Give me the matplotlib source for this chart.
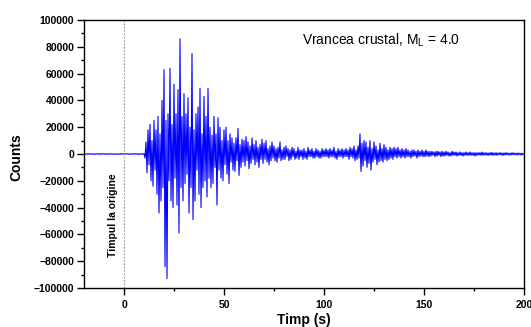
import numpy as np
import matplotlib
matplotlib.use("Agg")
import matplotlib.pyplot as plt
from matplotlib.ticker import MultipleLocator

plt.rcParams['font.family'] = ['Liberation Sans', 'DejaVu Sans']

# seismogram, in thousands of counts, one value every 0.5 s from -20 s
t_start = -20.0
dt = 0.5
counts_k = [
    # -20 .. -10
    0.2, -0.3, 0.1, -0.2, 0.3, -0.1, 0.2, -0.3, 0.2, -0.2, 0.1, -0.3, 0.2, -0.1, 0.3, -0.2, 0.1, -0.2, 0.3, -0.1,
    # -10 .. 0
    0.3, -0.2, 0.1, -0.3, 0.2, -0.2, 0.3, -0.1, 0.2, -0.3, 0.1, -0.2, 0.2, -0.3, 0.1, -0.2, 0.3, -0.2, 0.2, -0.1,
    # 0 .. 10
    0.2, -0.2, 0.3, -0.1, 0.2, -0.3, 0.1, -0.2, 0.3, -0.2, 0.2, -0.1, 0.3, -0.2, 0.1, -0.3, 0.2, -0.2, 0.3, -0.2,
    # 10 .. 20
    0.3, -3, 9, -14, 18, -8, 22, -20, 10, -24, 25, -12, 18, -30, 28, -44, 15, -35, 40, -25,
    # 20 .. 30
    63, -84, 25, -93, 30, -20, 64, -35, 22, -40, 52, -18, 30, -38, 48, -59, 86, -25, 28, -35,
    # 30 .. 40
    45, -22, 30, -15, 42, -44, 20, -25, 75, -49, 18, -35, 30, -12, 35, -30, 49, -40, 15, -25,
    # 40 .. 50
    43, -20, 28, -32, 49, -18, 20, -25, 14, -22, 28, -10, 15, -38, 27, -12, 20, -18, 10, -20,
    # 50 .. 60
    18, -8, 20, -15, 10, -22, 15, -6, 12, -12, 8, -13, 12, -5, 19, -16, 7, -10, 11, -6,
    # 60 .. 70
    10, -9, 13, -5, 9, -11, 6, -7, 12, -4, 7, -8, 10, -6, 5, -10, 7, -4, 11, -7,
    # 70 .. 80
    8, -4, 10, -6, 4, -8, 6, -5, 9, -3, 6, -5, 4, -6, 5, -3, 9, -5, 3, -4,
    # 80 .. 90
    5, -4, 6, -2, 4, -5, 3, -4, 5, -2, 4, -4, 2, -3, 5, -4, 3, -2, 3, -4,
    # 90 .. 100
    4, -3, 2, -4, 5, -2, 3, -2, 4, -3, 2, -3, 4, -2, 3, -3, 2, -3, 4, -2,
    # 100 .. 110
    3, -2, 4, -2, 3, -3, 4, -2, 3, -2, 5, -3, 2, -4, 4, -2, 3, -2, 4, -3,
    # 110 .. 120
    3, -2, 4, -2, 3, -4, 5, -2, 4, -3, 6, -5, 3, -4, 6, -3, 15, -13, 8, -9,
    # 120 .. 130
    10, -5, 9, -10, 5, -7, 10, -12, 4, -6, 9, -4, 6, -8, 3, -6, 8, -5, 4, -6,
    # 130 .. 140
    7, -4, 5, -5, 3, -4, 5, -3, 4, -4, 5, -2, 4, -3, 5, -2, 3, -3, 4, -2,
    # 140 .. 150
    3, -3, 4, -2, 3, -2, 2, -3, 3, -2, 3, -1.5, 2, -3, 3, -2, 2, -1.5, 3, -2,
    # 150 .. 160
    2, -2, 3, -1.5, 2, -2, 2, -1.5, 2, -1, 1.5, -2, 2, -1.5, 2, -1, 1.5, -2, 2, -1.5,
    # 160 .. 170
    1.5, -1.5, 2, -1, 1.5, -1.5, 1, -1.5, 2, -1, 1.5, -1, 1.5, -1.5, 1, -1, 1.5, -1, 1, -1.5,
    # 170 .. 180
    1, -1, 1.5, -1, 1, -1, 1.5, -1, 1, -1, 1, -1.5, 1, -1, 1, -0.8, 1, -1, 1.5, -1,
    # 180 .. 190
    1, -0.8, 1, -1, 0.8, -1, 1, -0.8, 1.2, -1, 0.8, -0.8, 1, -1, 0.8, -0.6, 1, -0.8, 0.8, -1,
    # 190 .. 200
    0.8, -0.8, 1, -0.6, 0.8, -0.8, 0.6, -0.8, 1, -0.6, 0.8, -0.6, 0.6, -0.8, 0.8, -0.6, 0.6, -0.8, 0.6, -0.6,
    0.3,
]

counts = np.array(counts_k) * 1000
timp = t_start + dt * np.arange(len(counts))

fig = plt.figure(figsize=(5.31, 3.27), dpi=100)
ax = fig.add_axes([84 / 531, 1 - 288 / 327, 440 / 531, 268 / 327])

ax.plot(timp, counts, color='#0000ff', lw=0.8)
ax.axvline(0, color='#909090', lw=0.8, ls=(0, (1.5, 1.5)))

ax.set_xlim(-20, 200)
ax.set_ylim(-100000, 100000)
ax.xaxis.set_major_locator(MultipleLocator(50))
ax.xaxis.set_minor_locator(MultipleLocator(25))
ax.yaxis.set_major_locator(MultipleLocator(20000))
ax.yaxis.set_minor_locator(MultipleLocator(10000))
ax.tick_params(which='major', direction='out', length=5, width=1, labelsize=7.5, pad=2)
ax.tick_params(which='minor', direction='out', length=2.5, width=1)
ax.tick_params(axis='x', which='major', pad=4)
for lab in ax.get_xticklabels() + ax.get_yticklabels():
    lab.set_fontweight('bold')
for s in ax.spines.values():
    s.set_linewidth(1.0)

ax.set_xlabel('Timp (s)', fontsize=10, fontweight='bold')
ax.xaxis.set_label_coords(0.5, -0.093)
ax.set_ylabel('Counts', fontsize=10, fontweight='bold')
ax.yaxis.set_label_coords(-0.137, 0.49)

ax.text(-5.25, -46000, 'Timpul la origine', rotation=90, ha='center', va='center',
        fontsize=7.5, fontweight='bold')
ax.text(0.495, 0.955, r'Vrancea crustal, M$_\mathregular{L}$ = 4.0', transform=ax.transAxes,
        ha='left', va='top', fontsize=10)

fig.savefig('out.png', dpi=100)
